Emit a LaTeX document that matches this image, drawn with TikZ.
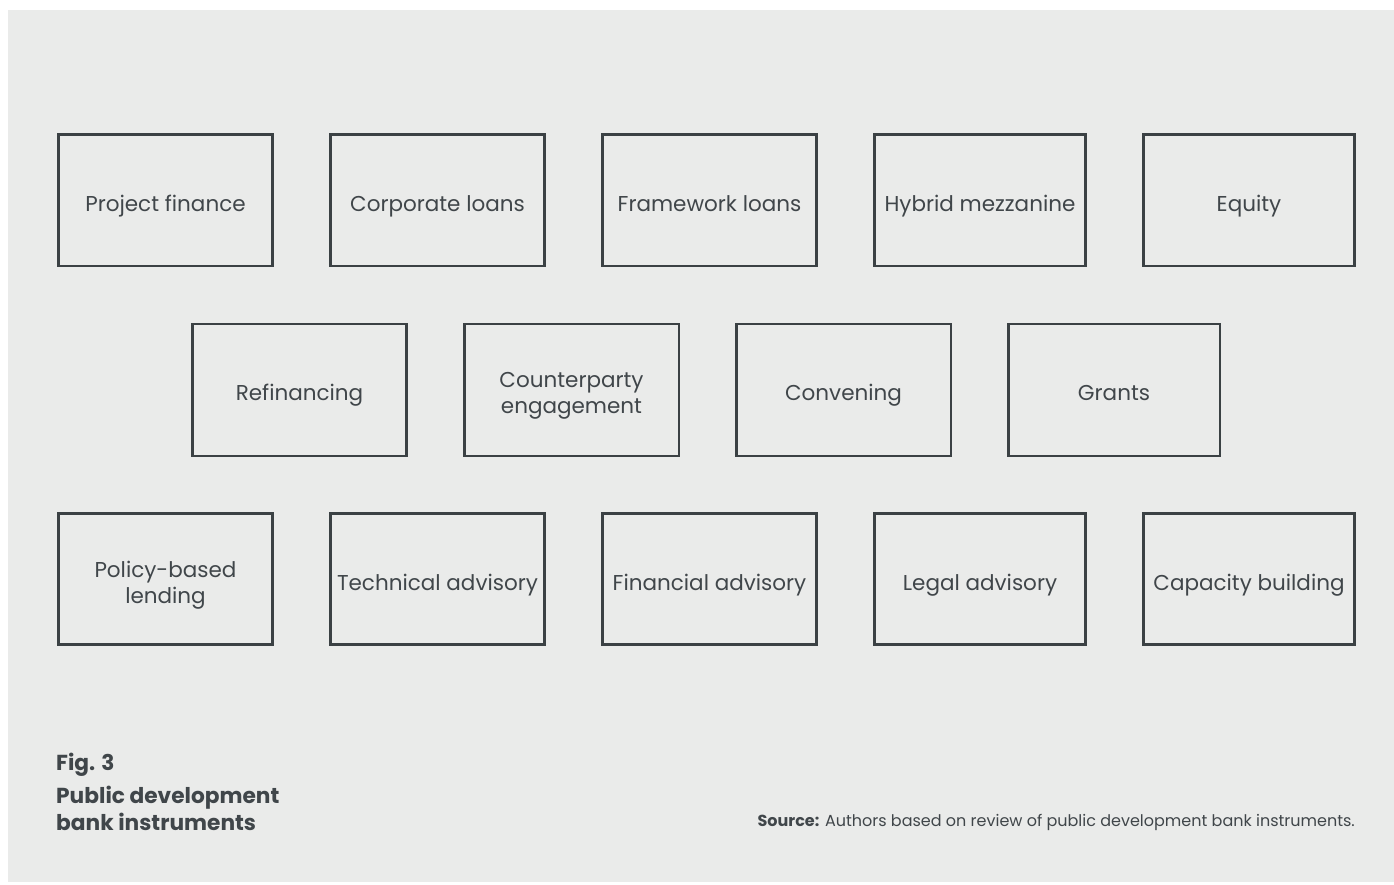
\documentclass[tikz,border=0pt]{standalone}
\usepackage{fontspec}
\setmainfont{Poppins}
\definecolor{bg}{HTML}{EAEBEA}
\definecolor{edge}{HTML}{3B4144}
\definecolor{txt}{HTML}{40464A}
\tikzset{
  box/.style={draw=edge, line width=2.8pt, fill=none},
  lbl/.style={text=txt, font=\fontsize{21.5}{26.5}\selectfont, align=center, anchor=base, inner sep=0pt}
}
\begin{document}
\begin{tikzpicture}[x=1pt,y=-1pt]
\useasboundingbox (0,0) rectangle (1394,884);
\fill[white] (0,0) rectangle (1394,884);
\fill[bg] (8,10) rectangle (1394,882);
% row 1
\draw[box] (58.5,134.5) rectangle (272.5,266);
\draw[box] (330.5,134.5) rectangle (544.5,266);
\draw[box] (602.5,134.5) rectangle (816.5,266);
\draw[box] (874.5,134.5) rectangle (1085.5,266);
\draw[box] (1143.5,134.5) rectangle (1354.5,266);
% row 2
\draw[box] (192.5,324) rectangle (406.5,456);
\draw[box] (464.5,324) rectangle (679,456);
\draw[box] (736.5,324) rectangle (951,456);
\draw[box] (1008.5,324) rectangle (1220,456);
% row 3
\draw[box] (58.5,513.5) rectangle (272.5,644.5);
\draw[box] (330.5,513.5) rectangle (544.5,644.5);
\draw[box] (602.5,513.5) rectangle (816.5,644.5);
\draw[box] (874.5,513.5) rectangle (1085.5,644.5);
\draw[box] (1143.5,513.5) rectangle (1354.5,644.5);
% labels
\node[lbl] (t1) at (165.5,211.5) {Project finance};
\node[lbl] (t2) at (437.5,211.5) {Corporate loans};
\node[lbl] (t3) at (709.5,211.5) {Framework loans};
\node[lbl] (t4) at (980,211.5) {Hybrid mezzanine};
\node[lbl] (t5) at (1249,211.5) {Equity};
\node[lbl] (t6) at (299.5,400.5) {Refinancing};
\node[lbl] (t7) at (571.5,413.5) {Counterparty\\engagement};
\node[lbl] (t8) at (843.5,400.5) {Convening};
\node[lbl] (t9) at (1114,400.5) {Grants};
\node[lbl] (t10) at (165.5,603.5) {Policy-based\\lending};
\node[lbl] (t11) at (437.5,590.5) {Technical advisory};
\node[lbl] (t12) at (709.5,590.5) {Financial advisory};
\node[lbl] (t13) at (980,590.5) {Legal advisory};
\node[lbl] (t14) at (1249,590.5) {Capacity building};
% caption
\node[text=txt, font=\fontsize{21.7}{27}\selectfont\bfseries, anchor=base west, inner sep=0pt] (fig) at (56,770) {Fig. 3};
\node[text=txt, font=\fontsize{21.7}{27}\selectfont\bfseries, anchor=base west, inner sep=0pt] (title) at (56,803) {Public development};
\node[text=txt, font=\fontsize{21.7}{27}\selectfont\bfseries, anchor=base west, inner sep=0pt] (title2) at (56,830) {bank instruments};
\node[text=txt, font=\fontsize{16}{19}\selectfont, anchor=base east, inner sep=0pt] (src) at (1355,826) {\textbf{Source:} Authors based on review of public development bank instruments.};
\end{tikzpicture}
\end{document}
